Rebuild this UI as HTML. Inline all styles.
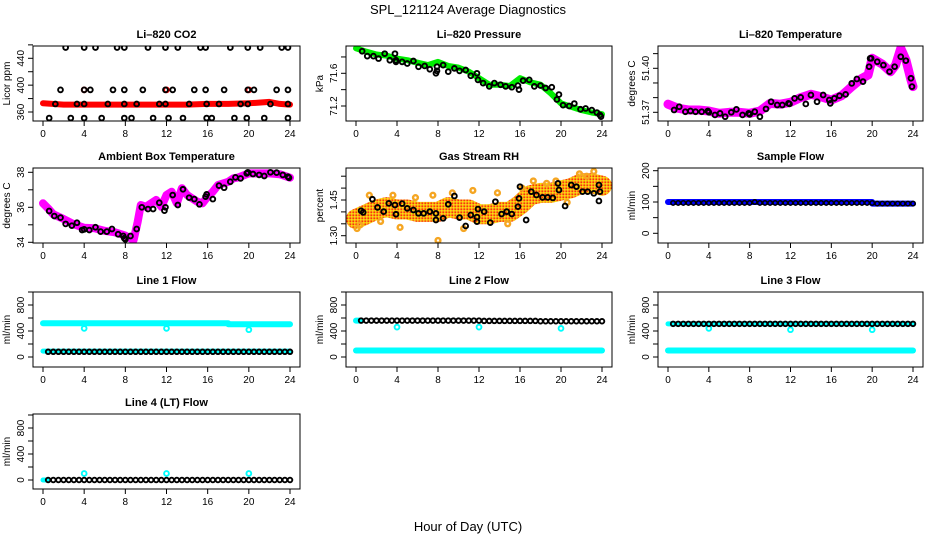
<!DOCTYPE html>
<html><head><meta charset="utf-8"><style>
html,body{margin:0;padding:0;background:#fff}
svg{display:block;font-family:"Liberation Sans",sans-serif}
</style></head><body>
<svg id="chart" width="936" height="540" viewBox="0 0 936 540" xmlns="http://www.w3.org/2000/svg">
<defs>
<pattern id="chk" width="3" height="3" patternUnits="userSpaceOnUse">
<rect width="3" height="3" fill="#f5a623"/><rect width="1.5" height="1.5" fill="#ffe400"/><rect x="1.5" y="1.5" width="1.5" height="1.5" fill="#ff3a00"/>
</pattern>
</defs>
<rect width="936" height="540" fill="#fff"/>
<text x="468" y="14" text-anchor="middle" font-size="13">SPL_121124  Average Diagnostics</text>
<text x="468" y="531" text-anchor="middle" font-size="13">Hour of Day (UTC)</text>
</svg>
<script>
// ---------- data ----------
const xTicks=[0,4,8,12,16,20,24];
const halfHours=[0.5,1,1.5,2,2.5,3,3.5,4,4.5,5,5.5,6,6.5,7,7.5,8,8.5,9,9.5,10,10.5,11,11.5,12,12.5,13,13.5,14,14.5,15,15.5,16,16.5,17,17.5,18,18.5,19,19.5,20,20.5,21,21.5,22,22.5,23,23.5,24];

const co2BandHours=[0,2,4,6,8,10,12,14,16,18,20,21,22,23,24];
const co2BandValues=[373,371,371,371,371,371,371,371,372,372,373,374,375,372,371];
const co2Hours=[2.2,4.0,5.1,7.2,7.9,10.2,11.9,13.1,15.3,15.8,18.2,19.9,21.1,23.2,23.8,1.7,4.0,4.6,6.8,7.9,9.7,11.9,12.6,14.7,15.8,17.6,19.9,20.5,22.7,23.8,1.2,3.3,4.0,6.3,7.9,9.1,11.3,11.9,14.2,15.9,17.1,19.2,19.9,22.1,23.8,0.6,2.7,4.0,5.7,7.9,8.6,10.7,12.2,13.6,15.9,16.4,18.6,19.8,21.5,23.8];
const co2Values=[456,456,456,456,456,456,456,456,456,456,456,456,456,456,456,393,393,393,393,393,393,393,393,393,393,393,393,393,393,393,372,372,372,372,372,372,372,372,372,372,372,372,372,372,372,351,351,351,351,351,351,351,351,351,351,351,351,351,351,351];
const co2RedHours=[4,12,20];
const co2RedValues=[393,393,393];

const presBandHours=[0,1,2,3,4,5,6,7,8,9,10,11,12,13,14,15,16,17,18,19,20,21,22,23,24];
const presBandValues=[71.906,71.864,71.83,71.815,71.78,71.76,71.73,71.70,71.74,71.69,71.67,71.62,71.54,71.46,71.46,71.445,71.54,71.49,71.46,71.355,71.233,71.19,71.15,71.12,71.10];
const presHours=[0.6,1.1,1.7,2.2,2.8,3.3,3.8,3.9,3.9,4.5,5.0,5.6,6.1,6.7,7.2,7.8,7.9,7.9,8.5,9.0,9.6,10.1,10.7,11.2,11.8,11.9,12.4,13.0,13.5,14.1,14.6,15.2,15.8,15.9,16.3,16.9,17.4,18.0,18.5,19.1,19.6,19.8,20.2,20.8,21.3,21.9,22.4,23.0,23.5,23.8,23.9];
const presValues=[71.87,71.81,71.81,71.78,71.84,71.76,71.84,71.74,71.76,71.74,71.72,71.75,71.68,71.69,71.65,71.60,71.63,71.68,71.70,71.62,71.66,71.63,71.64,71.57,71.60,71.52,71.48,71.44,71.48,71.46,71.44,71.43,71.45,71.40,71.51,71.52,71.44,71.45,71.42,71.43,71.28,71.34,71.21,71.20,71.23,71.16,71.17,71.15,71.12,71.09,71.07];

const tempBandHours=[0,1,2,3,4,5,6,7,8,9,10,11,12,13,14,15,16,17,18,19,19.6,20,21,21.8,22.3,22.8,23.3,23.8,24];
const tempBandValues=[51.3755,51.3727,51.3716,51.3716,51.3709,51.3693,51.37,51.37,51.3693,51.3709,51.3761,51.3755,51.3768,51.380,51.3823,51.3806,51.3784,51.3813,51.3875,51.3932,51.3954,51.4068,51.4027,51.3977,51.4022,51.4136,51.4057,51.392,51.3875];
const tempHours=[0.6,1.1,1.7,2.2,2.7,3.3,3.9,4.0,4.6,5.1,5.6,6.2,6.7,7.3,7.9,8.0,8.5,9.0,9.6,10.1,10.7,11.2,11.8,11.9,12.4,13.0,13.5,14.0,14.6,15.2,15.8,15.9,16.3,16.8,17.4,18.0,18.5,19.1,19.7,19.8,19.9,20.5,21.1,21.7,22.2,22.8,23.3,23.8,23.9];
const tempValues=[51.3716,51.3738,51.3704,51.3709,51.3704,51.3704,51.3709,51.3700,51.3682,51.3693,51.3670,51.3700,51.3720,51.3682,51.3693,51.3686,51.3704,51.3670,51.3723,51.3772,51.3750,51.3750,51.3761,51.3757,51.3795,51.3802,51.3757,51.3818,51.3772,51.3818,51.3784,51.3761,51.3795,51.3813,51.3822,51.3897,51.3927,51.3909,51.4011,51.4068,51.4068,51.4045,51.4022,51.3977,51.4011,51.4079,51.4052,51.3932,51.3875];

const ambBandHours=[0,0.5,1,2,3,4,5,6,7,8,8.8,9.2,9.5,10,10.5,11,11.5,12,12.5,13,13.5,14,14.5,15,15.5,16,16.5,17,18,18.5,19,20,21,22,23,24];
const ambBandValues=[36.23,35.94,35.6,35.33,35.03,34.83,34.8,34.65,34.57,34.38,34.13,35.18,36.13,36.03,36.23,36.42,36.03,36.7,36.89,36.23,37.09,36.7,36.51,36.32,36.23,36.61,36.89,37.27,37.46,37.66,37.71,37.94,37.94,37.94,37.89,37.69];
const ambHours=[0.6,1.1,1.7,2.2,2.8,3.3,3.8,4.0,4.5,5.1,5.6,6.2,6.7,7.3,7.8,7.9,8.0,8.5,9.1,9.6,10.2,10.7,11.3,11.8,11.9,12.6,13.1,13.6,14.2,14.7,15.2,15.8,15.9,16.5,17.1,17.6,18.2,18.7,19.2,19.8,19.9,20.4,21.0,21.5,22.1,22.7,23.3,23.8,23.9];
const ambValues=[35.79,35.50,35.41,35.05,34.95,35.12,34.70,34.74,34.70,34.86,34.61,34.61,34.76,34.46,34.36,34.23,34.17,34.36,34.76,36.00,35.90,35.90,36.26,35.81,36.00,36.70,36.13,37.03,36.55,36.47,36.17,36.61,36.74,36.47,37.24,37.12,37.46,37.71,37.65,37.94,38.00,37.90,37.85,37.79,38.00,37.98,37.85,37.75,37.69];

const rhBandHours=[0,1,2,3,4,5,6,7,8,9,10,11,12,13,14,15,16,17,18,19,20,21,22,23,24];
const rhBandValues=[1.37,1.39,1.41,1.42,1.41,1.41,1.40,1.40,1.40,1.42,1.41,1.41,1.39,1.39,1.40,1.40,1.43,1.47,1.48,1.48,1.49,1.50,1.52,1.52,1.51];
const rhHours=[0.5,0.7,1.6,2.1,2.7,3.2,3.8,3.9,4.5,5.0,5.6,6.1,6.6,7.2,7.8,7.8,8.5,9.0,9.6,10.1,10.7,11.2,11.8,11.8,11.9,12.5,13.1,13.6,14.2,14.7,15.2,15.8,15.9,16.0,16.6,17.1,17.6,18.2,18.7,19.2,19.7,19.8,20.4,21.0,21.5,22.1,22.6,23.2,23.7,23.8,23.7];
const rhValues=[1.405,1.398,1.453,1.419,1.401,1.436,1.429,1.39,1.435,1.415,1.408,1.394,1.394,1.401,1.394,1.366,1.373,1.432,1.467,1.376,1.341,1.387,1.378,1.359,1.412,1.401,1.355,1.443,1.391,1.401,1.391,1.422,1.457,1.506,1.366,1.485,1.471,1.461,1.461,1.459,1.52,1.492,1.425,1.513,1.506,1.485,1.485,1.478,1.513,1.485,1.446];
const rhScatterHours=[0.1,0.4,1.3,2.4,3.6,4.3,5.8,7.5,8.0,9.4,10.5,11.4,13.8,14.8,16.2,17.3,18.6,19.5,20.6,21.8,22.5,23.2];
const rhScatterValues=[1.33,1.345,1.47,1.36,1.47,1.335,1.46,1.47,1.28,1.48,1.33,1.49,1.48,1.35,1.50,1.53,1.52,1.53,1.44,1.56,1.55,1.57];

const sampBandHours=[0,20,20,24];
const sampBandValues=[100,100,95,95];
const sampValues=[97,97,97,97,97,97,97,97,97,97,97,97,97,97,97,97,100,97,97,97,97,97,97,97,97,97,97,97,97,97,97,97,97,97,97,97,97,97,97,97,95,95,95,95,95,95,95,95];

const l1UpHours=[0,18,18,24];
const l1UpValues=[520,520,505,505];
const l1LowHours=[0,24];
const l1LowValues=[90,90];
const l1Black=[80,80,80,80,80,80,80,80,80,80,80,80,80,80,80,80,80,80,80,80,80,80,80,80,80,80,80,80,80,80,80,80,80,80,80,80,80,80,80,80,80,80,80,80,80,80,80,80];
const l1OutHours=[4,12,20];
const l1OutValues=[440,440,420];

const l2UpHours=[0,0.5];
const l2UpValues=[560,560];
const l2LowHours=[0,24];
const l2LowValues=[100,100];
const l2Black=[560,560,560,560,560,560,560,560,560,560,560,560,560,560,560,560,560,560,560,560,560,560,560,560,555,555,555,555,555,555,555,555,555,555,555,550,550,550,550,550,550,550,550,550,550,550,550,550];
const l2OutHours=[4,12,20];
const l2OutValues=[460,460,440];

const l3UpHours=[0,24];
const l3UpValues=[510,510];
const l3LowHours=[0,24];
const l3LowValues=[100,100];
const l3Black=[510,510,510,510,510,510,510,510,510,510,510,510,510,510,510,510,510,510,510,510,510,510,510,510,510,510,510,510,510,510,510,510,510,510,510,510,510,510,510,510,510,510,510,510,510,510,510,510];
const l3OutHours=[4,12,20];
const l3OutValues=[440,420,420];

const l4BandHours=[0,0.4];
const l4BandValues=[0,0];
const l4Black=[0,0,0,0,0,0,0,0,0,0,0,0,0,0,0,0,0,0,0,0,0,0,0,0,0,0,0,0,0,0,0,0,0,0,0,0,0,0,0,0,0,0,0,0,0,0,0,0];
const l4OutHours=[4,12,20];
const l4OutValues=[100,100,100];

// ---------- layout ----------
const NS="http://www.w3.org/2000/svg";
const svg=document.getElementById('chart');
const COLS=[{l:33,r:300,x0:43,x24:290},{l:346,r:612,x0:356,x24:602},{l:658,r:923,x0:668,x24:913}];
const ROWS=[{t:46,b:121},{t:168,b:243},{t:292,b:367},{t:414,b:489}];
function mk(tag,attrs,parent){const e=document.createElementNS(NS,tag);for(const k in attrs)e.setAttribute(k,attrs[k]);(parent||svg).appendChild(e);return e;}

function panel(cfg){
  const C=COLS[cfg.col],R=ROWS[cfg.row];
  const g=mk('g',{});
  
  
  const xs=h=>C.x0+(C.x24-C.x0)*h/24;
  const [v1,p1,v2,p2]=cfg.yref;
  const ys=v=>R.t+p1+(v-v1)*(p2-p1)/(v2-v1);
  const clip='clip-'+cfg.name;
  const cp=mk('clipPath',{id:clip},g);
  mk('rect',{x:C.l,y:R.t,width:C.r-C.l,height:R.b-R.t},cp);
  const plot=mk('g',{'clip-path':'url(#'+clip+')'},g);
  
  
  cfg.draw(plot,xs,ys);
  const box=mk('rect',{x:C.l,y:R.t,width:C.r-C.l,height:R.b-R.t,fill:'none',stroke:'#000','stroke-width':1},g);
  
  
  const t=mk('text',{x:(C.l+C.r)/2,y:R.t-8,'text-anchor':'middle','font-size':11,'font-weight':'bold'},g);
  t.textContent=cfg.title;
  
  
  const xa=mk('g',{},g);
  
  
  mk('line',{x1:xs(xTicks[0]),x2:xs(xTicks[xTicks.length-1]),y1:R.b,y2:R.b,stroke:'#000'},xa);
  xTicks.forEach(v=>{
    mk('line',{x1:xs(v),x2:xs(v),y1:R.b,y2:R.b+5,stroke:'#000'},xa);
    const tl=mk('text',{x:xs(v),y:R.b+16,'text-anchor':'middle','font-size':10},xa);
    tl.textContent=v;
  });
  const ya=mk('g',{},g);
  
  
  cfg.yTicks.forEach(v=>{
    mk('line',{x1:C.l-5,x2:C.l,y1:ys(v),y2:ys(v),stroke:'#000'},ya);
  });
  cfg.yLabels.forEach(v=>{
    const yy=ys(Number(v));
    const tl=mk('text',{x:C.l-9,y:yy,'text-anchor':'middle','font-size':10,transform:'rotate(-90 '+(C.l-9)+' '+yy+')'},ya);
    tl.textContent=v;
  });
  const yl=mk('text',{x:C.l-23,y:(R.t+R.b)/2,'text-anchor':'middle','font-size':10,transform:'rotate(-90 '+(C.l-23)+' '+((R.t+R.b)/2)+')'},ya);
  yl.textContent=cfg.ylab;
  
  
}

function band(p,xs,ys,hours,vals,color,w,name){
  const pts=hours.map((h,i)=>xs(h).toFixed(1)+','+ys(vals[i]).toFixed(1)).join(' ');
  const l=mk('polyline',{points:pts,fill:'none',stroke:color,'stroke-width':w,'stroke-linejoin':'round','stroke-linecap':'round'},p);
  
  
}
function dots(p,xs,ys,hours,vals,color,name,r,sw){
  const n=Math.min(hours.length,vals.length);
  for(let i=0;i<n;i++){
    const c=mk('circle',{cx:xs(hours[i]),cy:ys(vals[i]),r:r||2.4,fill:'none',stroke:color,'stroke-width':sw||1.9},p);
    
    
  }
}

panel({name:'co2',col:0,row:0,title:'Li\u2013820 CO2',ylab:'Licor ppm',yref:[360,66,440,12.3],
  yTicks:[360,380,400,420,440,460],yLabels:['360','400','440'],
  draw:(p,xs,ys)=>{band(p,xs,ys,co2BandHours,co2BandValues,'#ff0000',6,'co2-band');
    dots(p,xs,ys,co2RedHours,co2RedValues,'#ff0000','co2-red-point');
    dots(p,xs,ys,co2Hours,co2Values,'#000','co2-point');}});
panel({name:'pressure',col:1,row:0,title:'Li\u2013820 Pressure',ylab:'kPa',yref:[71.2,60,71.6,27.3],
  yTicks:[71.2,71.4,71.6,71.8],yLabels:['71.2','71.6'],
  draw:(p,xs,ys)=>{band(p,xs,ys,presBandHours,presBandValues,'#00ee00',6,'pressure-band');
    dots(p,xs,ys,presHours,presValues,'#000','pressure-point');}});
panel({name:'temperature',col:2,row:0,title:'Li\u2013820 Temperature',ylab:'degrees C',yref:[51.37,66.3,51.40,22.3],
  yTicks:[51.37,51.38,51.39,51.40,51.41],yLabels:['51.37','51.40'],
  draw:(p,xs,ys)=>{band(p,xs,ys,tempBandHours,tempBandValues,'#ff00ff',9,'temperature-band');
    dots(p,xs,ys,tempHours,tempValues,'#000','temperature-point');}});
panel({name:'ambient',col:0,row:1,title:'Ambient Box Temperature',ylab:'degrees C',yref:[34,74.3,38,4.3],
  yTicks:[34,35,36,37,38],yLabels:['34','36','38'],
  draw:(p,xs,ys)=>{band(p,xs,ys,ambBandHours,ambBandValues,'#ff00ff',8,'ambient-band');
    dots(p,xs,ys,ambHours,ambValues,'#000','ambient-point');}});
panel({name:'rh',col:1,row:1,title:'Gas Stream RH',ylab:'percent',yref:[1.30,67.7,1.45,32],
  yTicks:[1.30,1.35,1.40,1.45,1.50,1.55],yLabels:['1.30','1.45'],
  draw:(p,xs,ys)=>{band(p,xs,ys,rhBandHours,rhBandValues,'url(#chk)',20,'rh-band');
    dots(p,xs,ys,rhScatterHours,rhScatterValues,'#f5a623','rh-scatter-point',2.4,2.4);
    dots(p,xs,ys,rhHours,rhValues,'#000','rh-point');}});
panel({name:'sample-flow',col:2,row:1,title:'Sample Flow',ylab:'ml/min',yref:[0,65.3,200,2.7],
  yTicks:[0,50,100,150,200],yLabels:['0','100','200'],
  draw:(p,xs,ys)=>{band(p,xs,ys,sampBandHours,sampBandValues,'#0000ff',6,'sample-flow-band');
    dots(p,xs,ys,halfHours,sampValues,'#000','sample-flow-point',2.2,1.6);}});
const flowTicks=[0,200,400,600,800,1000],flowLabels=['0','400','800'];
panel({name:'line1-flow',col:0,row:2,title:'Line 1 Flow',ylab:'ml/min',yref:[0,65,800,13],yTicks:flowTicks,yLabels:flowLabels,
  draw:(p,xs,ys)=>{band(p,xs,ys,l1UpHours,l1UpValues,'#00ffff',6,'line1-upper-band');
    band(p,xs,ys,l1LowHours,l1LowValues,'#00ffff',5,'line1-lower-band');
    dots(p,xs,ys,l1OutHours,l1OutValues,'#00ffff','line1-outlier');
    dots(p,xs,ys,halfHours,l1Black,'#000','line1-point',2.3,1.9);}});
panel({name:'line2-flow',col:1,row:2,title:'Line 2 Flow',ylab:'ml/min',yref:[0,65,800,13],yTicks:flowTicks,yLabels:flowLabels,
  draw:(p,xs,ys)=>{band(p,xs,ys,l2UpHours,l2UpValues,'#00ffff',6,'line2-upper-band');
    band(p,xs,ys,l2LowHours,l2LowValues,'#00ffff',6,'line2-lower-band');
    dots(p,xs,ys,l2OutHours,l2OutValues,'#00ffff','line2-outlier');
    dots(p,xs,ys,halfHours,l2Black,'#000','line2-point',2.3,1.9);}});
panel({name:'line3-flow',col:2,row:2,title:'Line 3 Flow',ylab:'ml/min',yref:[0,65,800,13],yTicks:flowTicks,yLabels:flowLabels,
  draw:(p,xs,ys)=>{band(p,xs,ys,l3UpHours,l3UpValues,'#00ffff',5,'line3-upper-band');
    band(p,xs,ys,l3LowHours,l3LowValues,'#00ffff',6,'line3-lower-band');
    dots(p,xs,ys,l3OutHours,l3OutValues,'#00ffff','line3-outlier');
    dots(p,xs,ys,halfHours,l3Black,'#000','line3-point',2.3,1.9);}});
panel({name:'line4-flow',col:0,row:3,title:'Line 4 (LT) Flow',ylab:'ml/min',yref:[0,66,800,14],yTicks:flowTicks,yLabels:flowLabels,
  draw:(p,xs,ys)=>{band(p,xs,ys,l4BandHours,l4BandValues,'#00ffff',5,'line4-band');
    dots(p,xs,ys,l4OutHours,l4OutValues,'#00ffff','line4-outlier');
    dots(p,xs,ys,halfHours,l4Black,'#000','line4-point',2.3,1.9);}});
</script>
</body></html>
